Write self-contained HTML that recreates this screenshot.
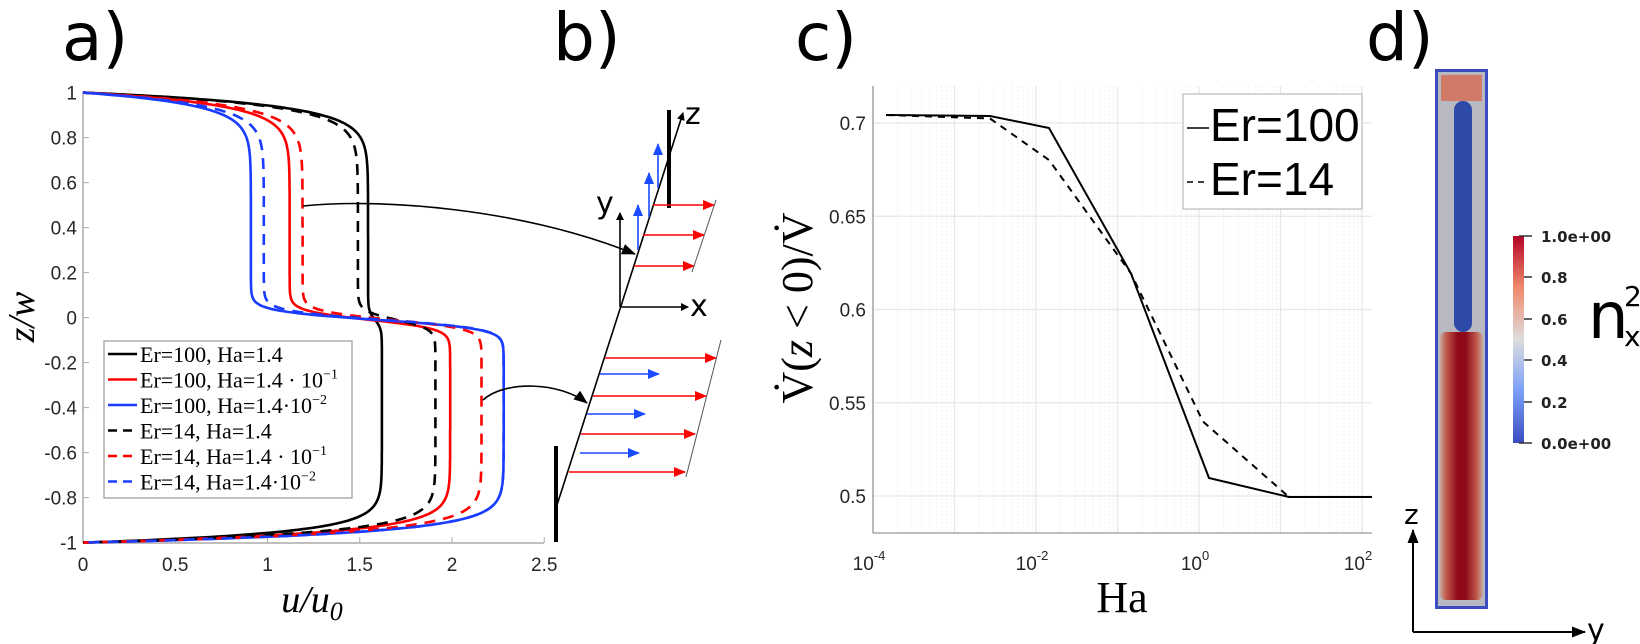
<!DOCTYPE html>
<html><head><meta charset="utf-8"><style>
html,body{margin:0;padding:0;background:#fff;}
svg{display:block;}
.tk{font-family:"Liberation Sans",sans-serif;font-size:19px;fill:#262626;}
.pl{font-family:"DejaVu Sans","Liberation Sans",sans-serif;font-size:66px;fill:#000;}
.lg{font-family:"Liberation Serif",serif;font-size:22px;fill:#000;}
</style></head><body>
<svg id="s" width="1640" height="644" viewBox="0 0 1640 644" xmlns="http://www.w3.org/2000/svg">
<defs>
<marker id="ab" markerWidth="8" markerHeight="8" refX="7" refY="4" orient="auto" markerUnits="userSpaceOnUse"><path d="M0,0 L8,4 L0,8 z" fill="#000"/></marker>
<marker id="ar" markerWidth="12" markerHeight="10" refX="11" refY="5" orient="auto" markerUnits="userSpaceOnUse"><path d="M0,0 L12,5 L0,10 z" fill="#f00"/></marker>
<marker id="abl" markerWidth="12" markerHeight="10" refX="11" refY="5" orient="auto" markerUnits="userSpaceOnUse"><path d="M0,0 L12,5 L0,10 z" fill="#1a4cff"/></marker>
<marker id="ak" markerWidth="14" markerHeight="11" refX="13" refY="5.5" orient="auto" markerUnits="userSpaceOnUse"><path d="M0,0 L14,5.5 L0,11 z" fill="#000"/></marker>
<linearGradient id="cb" x1="0" y1="1" x2="0" y2="0">
<stop offset="0" stop-color="#3b4cc0"/><stop offset="0.25" stop-color="#7b9ff9"/><stop offset="0.5" stop-color="#dddddd"/><stop offset="0.75" stop-color="#f08a6c"/><stop offset="1" stop-color="#b40426"/></linearGradient>
<linearGradient id="redh" x1="0" y1="0" x2="1" y2="0">
<stop offset="0" stop-color="#c8a8a0"/><stop offset="0.15" stop-color="#c0584a"/><stop offset="0.4" stop-color="#8e0a1a"/><stop offset="0.6" stop-color="#8e0a1a"/><stop offset="0.85" stop-color="#c0584a"/><stop offset="1" stop-color="#c8a8a0"/></linearGradient>
</defs>

<!-- panel labels -->
<text class="pl" x="62" y="60">a)</text>
<text class="pl" x="553" y="60">b)</text>
<text class="pl" x="795" y="60">c)</text>
<text class="pl" x="1366" y="60">d)</text>

<!-- ===== Panel a ===== -->
<g id="pa">
<line x1="83" y1="92" x2="83" y2="543" stroke="#aaa" stroke-width="1.5"/>
<line x1="83" y1="543" x2="544" y2="543" stroke="#aaa" stroke-width="1.5"/>
</g>
<text x="312" y="612" text-anchor="middle" font-family="Liberation Serif,serif" font-style="italic" font-size="38">u/u<tspan font-size="26" dy="8">0</tspan></text>
<text transform="translate(34,317) rotate(-90)" text-anchor="middle" font-family="Liberation Serif,serif" font-style="italic" font-size="38">z/w</text>

<!-- ===== Panel b ===== -->
<g stroke-width="1.6" fill="none">
<line x1="557" y1="505" x2="683" y2="113" stroke="#000" marker-end="url(#ab)"/>
<line x1="669" y1="110" x2="669" y2="208" stroke="#000" stroke-width="4"/>
<line x1="556" y1="446" x2="556" y2="542" stroke="#000" stroke-width="4"/>
<line x1="620" y1="307" x2="620" y2="213" stroke="#000" marker-end="url(#ab)"/>
<line x1="620" y1="307" x2="688" y2="307" stroke="#000" marker-end="url(#ab)"/>
<!-- upper red -->
<line x1="653" y1="205" x2="714" y2="205" stroke="#f00" marker-end="url(#ar)"/>
<line x1="643" y1="235" x2="704" y2="235" stroke="#f00" marker-end="url(#ar)"/>
<line x1="634" y1="266" x2="694" y2="266" stroke="#f00" marker-end="url(#ar)"/>
<line x1="716" y1="200" x2="692" y2="272" stroke="#555" stroke-width="1"/>
<!-- blue up -->
<line x1="638" y1="250" x2="638" y2="205" stroke="#1a4cff" marker-end="url(#abl)"/>
<line x1="649" y1="217" x2="649" y2="173" stroke="#1a4cff" marker-end="url(#abl)"/>
<line x1="658" y1="188" x2="658" y2="144" stroke="#1a4cff" marker-end="url(#abl)"/>
<!-- lower -->
<line x1="605" y1="358" x2="716" y2="358" stroke="#f00" marker-end="url(#ar)"/>
<line x1="593" y1="396" x2="706" y2="396" stroke="#f00" marker-end="url(#ar)"/>
<line x1="581" y1="434" x2="695" y2="434" stroke="#f00" marker-end="url(#ar)"/>
<line x1="569" y1="472" x2="685" y2="472" stroke="#f00" marker-end="url(#ar)"/>
<line x1="721" y1="340" x2="686" y2="477" stroke="#555" stroke-width="1"/>
<line x1="600" y1="374" x2="659" y2="374" stroke="#1a4cff" marker-end="url(#abl)"/>
<line x1="587" y1="414" x2="645" y2="414" stroke="#1a4cff" marker-end="url(#abl)"/>
<line x1="580" y1="453" x2="639" y2="453" stroke="#1a4cff" marker-end="url(#abl)"/>
<!-- curved arrows -->
<path d="M303,206 C380,198 520,208 635,254" stroke="#000" marker-end="url(#ak)"/>
<path d="M483,400 C505,380 560,382 587,403" stroke="#000" marker-end="url(#ak)"/>
</g>
<text x="685" y="124" font-family="DejaVu Sans,sans-serif" font-size="30">z</text>
<text x="596" y="213" font-family="DejaVu Sans,sans-serif" font-size="30">y</text>
<text x="690" y="316" font-family="DejaVu Sans,sans-serif" font-size="30">x</text>

<!-- ===== Panel c ===== -->
<g id="pc"></g>
<text x="1122" y="612" text-anchor="middle" font-family="Liberation Serif,serif" font-size="44">Ha</text>
<text transform="translate(812,308) rotate(-90)" text-anchor="middle" font-family="Liberation Serif,serif" font-size="44">V̇(<tspan font-style="italic">z</tspan> &lt; 0)/V̇</text>
<rect x="1183" y="94" width="179" height="115" fill="#fff" stroke="#bbb" stroke-width="1.2"/>
<line x1="1187" y1="128" x2="1209" y2="128" stroke="#000" stroke-width="1.6"/>
<line x1="1187" y1="182" x2="1209" y2="182" stroke="#000" stroke-width="1.6" stroke-dasharray="6,5"/>
<text x="1210" y="141" font-family="Liberation Sans,sans-serif" font-size="46">Er=100</text>
<text x="1210" y="195" font-family="Liberation Sans,sans-serif" font-size="46">Er=14</text>

<!-- ===== Panel d ===== -->
<rect x="1435" y="69" width="53" height="540" fill="#3b4cc0"/>
<rect x="1438" y="72" width="47" height="534" fill="#b8b8c0"/>
<rect x="1441" y="75" width="41" height="26" fill="#d27a68"/>
<rect x="1440" y="332" width="43" height="268" rx="6" fill="url(#redh)"/>
<rect x="1454" y="101" width="18" height="231" rx="9" fill="#2d4aa8"/>
<rect x="1513" y="236" width="11" height="207" fill="url(#cb)"/>
<g stroke="#333" stroke-width="1.5">
<line x1="1519" y1="236" x2="1532" y2="236"/><line x1="1524" y1="277" x2="1532" y2="277"/>
<line x1="1524" y1="319" x2="1532" y2="319"/><line x1="1524" y1="360" x2="1532" y2="360"/>
<line x1="1524" y1="402" x2="1532" y2="402"/><line x1="1519" y1="443" x2="1532" y2="443"/></g>
<g font-family="DejaVu Sans,sans-serif" font-size="15" font-weight="bold" fill="#222">
<text x="1541" y="242">1.0e+00</text><text x="1541" y="283">0.8</text><text x="1541" y="325">0.6</text>
<text x="1541" y="366">0.4</text><text x="1541" y="408">0.2</text><text x="1541" y="449">0.0e+00</text></g>
<text x="1588" y="338" font-family="DejaVu Sans,sans-serif" font-size="64">n</text>
<text x="1624" y="306" font-family="DejaVu Sans,sans-serif" font-size="28">2</text>
<text x="1624" y="346" font-family="DejaVu Sans,sans-serif" font-size="28">x</text>
<line x1="1413" y1="632" x2="1413" y2="530" stroke="#000" stroke-width="2" marker-end="url(#ak)"/>
<line x1="1413" y1="632" x2="1585" y2="632" stroke="#000" stroke-width="2" marker-end="url(#ak)"/>
<text x="1404" y="524" font-family="DejaVu Sans,sans-serif" font-size="28">z</text>
<text x="1587" y="640" font-family="DejaVu Sans,sans-serif" font-size="30">y</text>
</svg>
<script>
var NS="http://www.w3.org/2000/svg";
function el(p,t,a,txt){var e=document.createElementNS(NS,t);for(var k in a)e.setAttribute(k,a[k]);if(txt!=null)e.textContent=txt;p.appendChild(e);return e;}
// panel a
var pa=document.getElementById('pa');
function X(u){return 83+u*184.5;} function Y(z){return 317.6-z*225;}
var xt=[0,0.5,1,1.5,2,2.5];
xt.forEach(function(v){el(pa,'line',{x1:X(v),y1:543,x2:X(v),y2:537,stroke:'#aaa'});el(pa,'text',{x:X(v),y:571,'text-anchor':'middle','class':'tk'},String(v));});
for(var i=0;i<=10;i++){var z=1-i*0.2;z=Math.round(z*10)/10;el(pa,'line',{x1:83,y1:Y(z),x2:89,y2:Y(z),stroke:'#aaa'});
el(pa,'text',{x:77,y:Y(z)+7,'text-anchor':'end','class':'tk'},String(z));}
var cs=[['#000',1.545,1.62,0],['#f00',1.12,1.99,0],['#1a3cff',0.91,2.28,0],['#000',1.49,1.91,1],['#f00',1.19,2.16,1],['#1a3cff',0.98,2.28,1]];
cs.forEach(function(c){var d='';for(var i=0;i<=800;i++){var z=1-i*2/800;
var s=0.5*(1-Math.tanh((z+0.01)/0.04));var b=c[1]+(c[2]-c[1])*s;var dl=z>0?0.055:0.045;var f=1-Math.exp(-(1-Math.abs(z))/dl);var u=b*f;
d+=(i?'L':'M')+X(u).toFixed(1)+','+Y(z).toFixed(1);}
var a={d:d,fill:'none',stroke:c[0],'stroke-width':2.6};if(c[3])a['stroke-dasharray']='11,8';el(pa,'path',a);});
// legend a
el(pa,'rect',{x:104,y:341,width:248,height:157,fill:'#fff',stroke:'#999','stroke-width':1.2});
var lt=[['Er=100, Ha=1.4',''],['Er=100, Ha=1.4 · 10','−1'],['Er=100, Ha=1.4·10','−2'],['Er=14, Ha=1.4',''],['Er=14, Ha=1.4 · 10','−1'],['Er=14, Ha=1.4·10','−2']];
lt.forEach(function(t,i){var y=354+i*25.5;var a={x1:108,y1:y,x2:137,y2:y,stroke:cs[i][0],'stroke-width':2.6};if(cs[i][3])a['stroke-dasharray']='9,6';el(pa,'line',a);
var tx=el(pa,'text',{x:140,y:y+8,'class':'lg'},t[0]);if(t[1]){var ts=el(tx,'tspan',{dy:-9,'font-size':14},t[1]);}});
// panel c
var pc=document.getElementById('pc');
function CX(l){return 873+(l+4)*81.5;} function CY(v){return 123+(0.7-v)/0.05*93.25;}
for(var dcd=-4;dcd<2;dcd++){for(var m=2;m<10;m++){var x=CX(dcd+Math.log10(m));el(pc,'line',{x1:x,y1:86,x2:x,y2:533,stroke:'#f0f0f0','stroke-width':1,'stroke-dasharray':'2,2'});}}
for(var v=0.5;v<=0.7001;v+=0.05){el(pc,'line',{x1:873,y1:CY(v),x2:1372,y2:CY(v),stroke:'#e6e6e6','stroke-width':1.3});}
for(var dd=-4;dd<=2;dd++){el(pc,'line',{x1:CX(dd),y1:86,x2:CX(dd),y2:533,stroke:'#e6e6e6','stroke-width':1.3});}
el(pc,'line',{x1:873,y1:86,x2:873,y2:533,stroke:'#999','stroke-width':1.3});
el(pc,'line',{x1:873,y1:533,x2:1372,y2:533,stroke:'#999','stroke-width':1.3});
[0.7,0.65,0.6,0.55,0.5].forEach(function(v){el(pc,'text',{x:866,y:CY(v)+7,'text-anchor':'end','class':'tk','font-size':20},String(v));});
[-4,-2,0,2].forEach(function(p){var t=el(pc,'text',{x:CX(p)-4,y:570,'text-anchor':'middle','class':'tk','font-size':20},'10');el(t,'tspan',{dy:-10,'font-size':13},p<0?'-'+(-p):String(p));});
el(pc,'polyline',{points:'886,115 990,116 1049,128 1131,273.5 1209,478 1289,497 1372,497',fill:'none',stroke:'#000','stroke-width':2});
el(pc,'polyline',{points:'886,115 990,118.5 1049,160 1131,273.5 1203,421.6 1289,497',fill:'none',stroke:'#000','stroke-width':2,'stroke-dasharray':'7,6'});
</script>
</body></html>
